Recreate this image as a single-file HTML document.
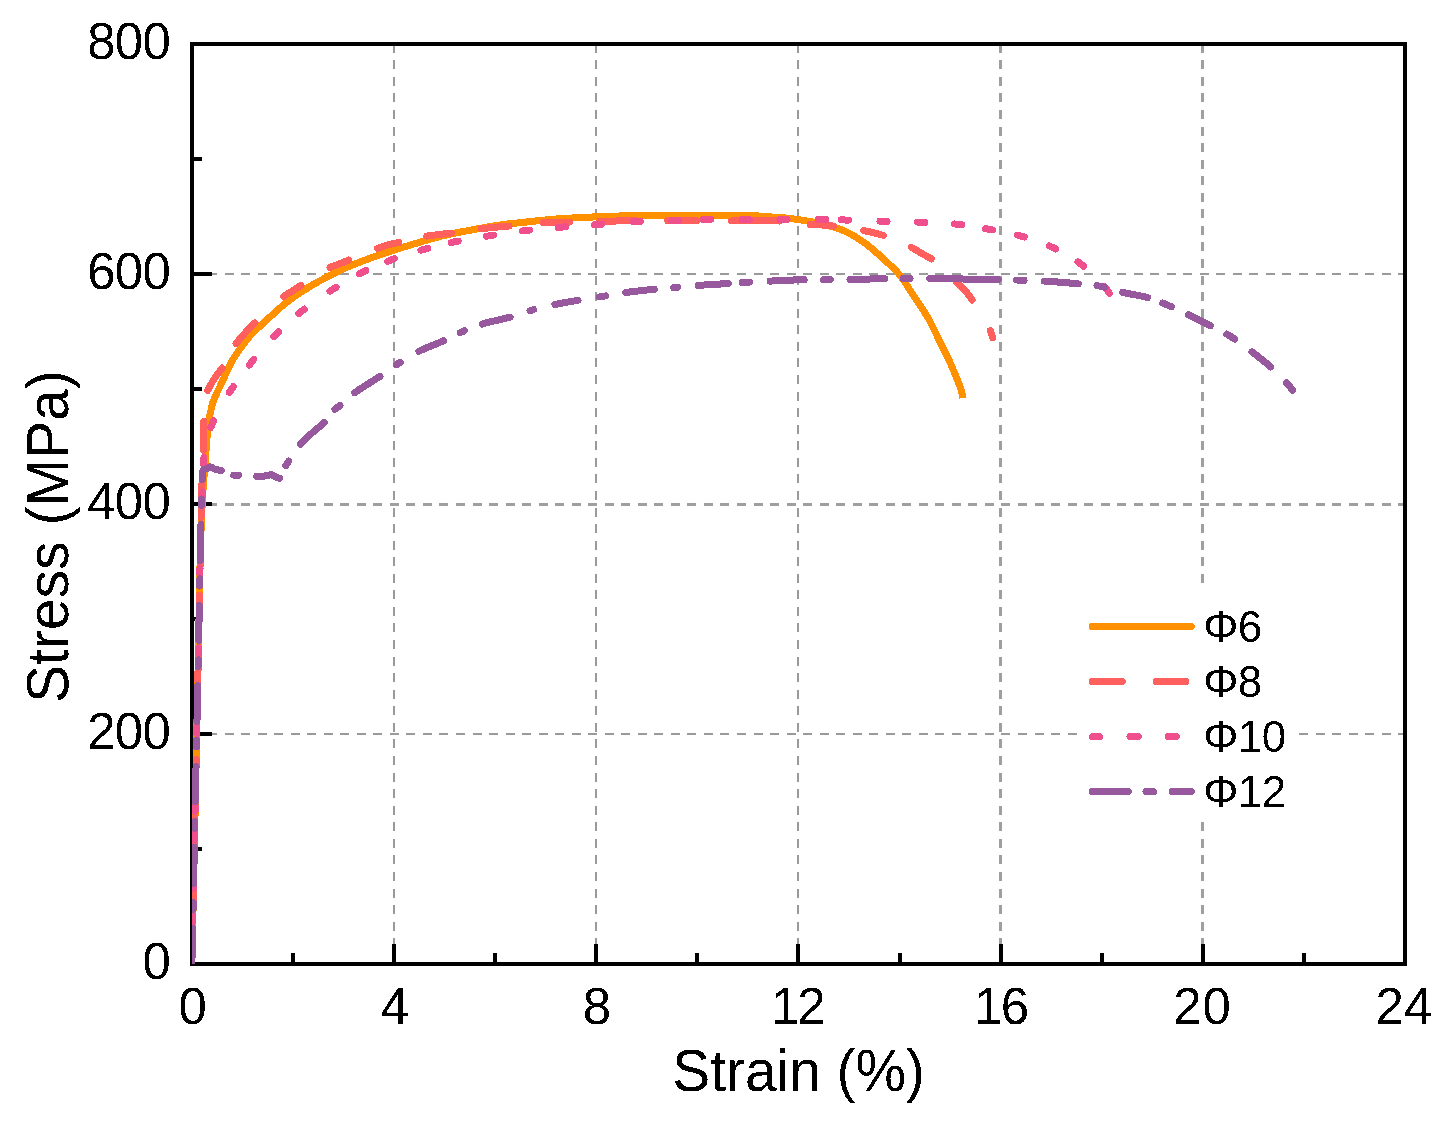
<!DOCTYPE html>
<html><head><meta charset="utf-8"><title>Stress-Strain Curves</title>
<style>html,body{margin:0;padding:0;background:#fff;width:1456px;height:1125px;overflow:hidden}svg{display:block}</style>
</head><body>
<svg width="1456" height="1125" viewBox="0 0 1456 1125">
<defs><clipPath id="pa"><rect x="192" y="44" width="1213" height="920"/></clipPath><filter id="bin" x="0" y="0" width="100%" height="100%" color-interpolation-filters="sRGB"><feComponentTransfer><feFuncA type="discrete" tableValues="0 1"/></feComponentTransfer></filter></defs>
<rect x="0" y="0" width="1456" height="1125" fill="#fff"/>
<g shape-rendering="crispEdges"><line x1="394.00" y1="43.7" x2="394.00" y2="964" stroke="#9a9a9a" stroke-width="2" stroke-dasharray="9 7.565"/><line x1="596.00" y1="43.7" x2="596.00" y2="964" stroke="#9a9a9a" stroke-width="2" stroke-dasharray="9 7.565"/><line x1="798.00" y1="43.7" x2="798.00" y2="964" stroke="#9a9a9a" stroke-width="2" stroke-dasharray="9 7.565"/><line x1="1000.50" y1="43.7" x2="1000.50" y2="964" stroke="#9f9f9f" stroke-width="3" stroke-dasharray="9 7.565"/><line x1="1202.50" y1="43.7" x2="1202.50" y2="964" stroke="#9f9f9f" stroke-width="3" stroke-dasharray="9 7.565"/><line x1="191.5" y1="734.00" x2="1405" y2="734.00" stroke="#9a9a9a" stroke-width="2" stroke-dasharray="9 7.53"/><line x1="191.5" y1="504.50" x2="1405" y2="504.50" stroke="#9f9f9f" stroke-width="3" stroke-dasharray="9 7.53"/><line x1="191.5" y1="274.00" x2="1405" y2="274.00" stroke="#9a9a9a" stroke-width="2" stroke-dasharray="9 7.53"/></g>
<rect x="1080" y="587" width="215" height="233" fill="#fff"/>
<rect x="192" y="44" width="1213" height="920" fill="none" stroke="#000" stroke-width="4" shape-rendering="crispEdges"/>
<path d="M194,964.00h18M194,849.00h8M194,734.00h18M194,619.00h8M194,504.00h18M194,389.00h8M194,274.00h18M194,159.00h8M194,44.00h18M192.00,962v-18M293.08,962v-9M394.17,962v-18M495.25,962v-9M596.33,962v-18M697.42,962v-9M798.00,962v-18M899.58,962v-9M1000.67,962v-18M1101.75,962v-9M1202.83,962v-18M1303.92,962v-9M1405.00,962v-18" stroke="#000" stroke-width="4" fill="none" shape-rendering="crispEdges"/>
<g clip-path="url(#pa)" fill="none" stroke-width="7" stroke-linejoin="round" shape-rendering="crispEdges">
<path d="M191.80,968.00 C192.99,912.00 194.23,854.41 195.36,800.00 C196.43,748.58 197.49,696.13 198.44,650.00 C199.25,610.50 199.71,569.53 200.69,540.00 C201.36,520.08 202.12,504.02 203.00,490.00 C203.64,479.80 204.41,472.48 205.10,463.60 C205.81,454.55 206.41,444.40 207.20,436.20 C207.84,429.51 208.51,422.82 209.30,418.00 C209.83,414.78 210.38,412.66 211.00,410.00 C211.62,407.33 212.12,404.63 213.00,402.00 C213.91,399.30 215.21,396.65 216.40,394.00 C217.61,391.32 218.93,388.67 220.20,386.00 C221.47,383.33 222.76,380.67 224.00,378.00 C225.23,375.34 226.37,372.66 227.60,370.00 C228.84,367.33 229.96,364.63 231.40,362.00 C232.88,359.29 234.62,356.64 236.40,354.00 C238.22,351.30 240.07,348.83 242.20,346.00 C244.67,342.72 247.13,339.11 250.40,335.50 C254.40,331.09 259.98,326.30 264.80,321.80 C269.58,317.34 275.26,312.08 279.20,308.60 C281.86,306.25 283.26,304.94 286.00,302.80 C289.86,299.80 295.55,295.83 300.40,292.60 C305.15,289.43 309.95,286.39 314.80,283.60 C319.55,280.87 324.39,278.47 329.20,276.00 C333.99,273.54 338.60,271.08 343.60,268.80 C348.85,266.40 354.09,264.30 360.00,262.00 C366.84,259.34 373.99,256.71 382.30,253.90 C392.67,250.40 406.48,246.15 417.50,242.90 C427.18,240.05 435.72,237.49 444.90,235.30 C454.02,233.13 463.22,231.52 472.40,229.80 C481.56,228.09 490.71,226.32 499.90,225.00 C509.05,223.69 518.24,222.88 527.40,221.90 C536.54,220.92 545.65,219.83 554.80,219.10 C563.95,218.37 573.11,217.97 582.30,217.50 C591.51,217.03 600.23,216.64 610.00,216.30 C620.98,215.92 632.02,215.58 645.00,215.40 C661.27,215.18 682.10,215.30 700.00,215.30 C717.06,215.30 737.96,214.94 750.00,215.40 C756.82,215.66 760.67,216.22 766.00,216.60 C771.33,216.98 777.58,217.33 782.00,217.70 C785.13,217.96 786.54,218.04 790.00,218.50 C796.43,219.35 808.40,220.91 817.50,223.00 C826.73,225.12 836.72,227.53 845.00,231.20 C852.57,234.55 858.85,238.78 865.50,243.60 C872.60,248.75 880.11,255.73 886.20,261.40 C891.34,266.19 895.58,269.90 899.90,275.20 C904.78,281.18 908.96,288.76 913.60,295.80 C918.45,303.17 924.21,311.19 928.40,318.50 C932.07,324.90 934.70,331.08 937.70,337.10 C940.52,342.76 943.21,347.92 945.90,353.60 C948.72,359.56 951.58,365.72 954.20,372.10 C956.93,378.74 960.90,387.91 961.90,392.70 C962.41,395.14 962.10,396.50 962.20,398.40" stroke="#ff9000" stroke-linecap="butt"/>
<path d="M191.80,968.00 C192.99,912.00 194.23,854.41 195.36,800.00 C196.43,748.58 197.49,696.13 198.44,650.00 C199.25,610.50 200.09,569.53 200.69,540.00 C201.10,520.09 201.20,505.30 201.72,490.00 C202.15,477.01 203.11,463.94 203.40,454.00 C203.60,446.97 203.50,442.00 203.60,436.00 C203.70,430.00 203.59,424.42 204.00,418.00 C204.47,410.57 204.98,399.77 206.50,394.00 C207.42,390.53 208.59,388.70 210.00,386.00 C211.54,383.04 213.41,380.18 215.50,377.00 C217.97,373.25 221.19,369.53 224.00,365.00 C227.36,359.59 230.30,352.03 234.00,346.50 C237.36,341.47 241.12,337.33 245.00,333.00 C248.89,328.66 253.35,324.54 257.30,320.50 C261.00,316.72 264.20,313.09 268.00,309.50 C271.98,305.75 276.45,301.69 280.70,298.50 C284.55,295.61 288.43,293.51 292.30,291.00 C296.19,288.48 299.45,286.32 304.00,283.40 C310.32,279.35 320.09,272.42 326.70,269.00 C331.42,266.56 335.16,265.52 339.40,263.80 C343.63,262.08 347.30,260.64 352.10,258.70 C358.41,256.15 367.24,252.33 374.00,249.80 C379.72,247.66 384.96,245.67 390.00,244.30 C394.36,243.12 397.73,242.83 402.40,241.80 C408.54,240.44 415.82,238.15 423.60,236.70 C432.91,234.97 445.01,233.95 454.60,232.60 C462.93,231.42 469.36,230.16 477.90,229.10 C488.24,227.81 501.48,226.77 512.30,225.70 C521.95,224.75 530.13,223.62 539.70,223.00 C550.18,222.33 562.22,222.29 572.70,222.00 C582.23,221.73 590.03,221.50 600.00,221.30 C612.06,221.05 628.32,220.76 640.00,220.70 C649.10,220.65 655.42,220.78 664.30,220.80 C675.06,220.82 688.82,220.78 700.00,220.80 C709.90,220.82 717.11,220.85 728.00,220.90 C743.27,220.97 768.53,220.27 783.00,221.20 C792.50,221.81 799.47,223.46 806.50,224.10 C812.19,224.62 816.85,224.60 822.00,225.00 C827.15,225.40 831.78,225.82 837.40,226.50 C844.22,227.33 853.47,228.59 860.00,229.80 C865.07,230.74 868.95,231.69 873.40,232.80 C877.88,233.92 881.88,234.78 886.80,236.50 C893.15,238.72 901.96,242.54 908.10,245.60 C913.02,248.05 916.68,250.50 921.00,253.00 C925.38,255.53 930.08,257.83 934.20,260.70 C938.23,263.51 941.91,266.62 945.50,270.00 C949.19,273.47 952.63,277.78 956.00,281.30 C959.04,284.47 962.34,287.43 964.80,290.20 C966.77,292.42 968.27,294.29 969.80,296.50 C971.34,298.72 972.48,300.96 974.00,303.50 C975.82,306.54 977.96,310.28 980.00,313.50 C981.96,316.60 984.24,319.54 986.00,322.50 C987.60,325.20 989.06,327.94 990.20,330.50 C991.20,332.75 992.06,335.08 992.60,337.00 C993.02,338.48 993.13,339.67 993.40,341.00" stroke="#ff5f5d" stroke-linecap="round" stroke-dasharray="31.20 30.72 27.27 31.04 26.66 30.94 27.01 30.05 27.22 21.75 27.21 30.78 27.46 28.98 28.06 20.50 36.10 31.19 29.01 31.16 27.02 28.04 27.97 39.16 20.77 33.89 20.42 30.64 22.58 28.81 24.27 30.56 27.57 34.53 26.02 30.53 36.78 31.30 28.70 35.00 48.01 30.69 24.00 29.84 20.64 30.17 23.16 33.58 24.68 35.68 7.40 1573.75" stroke-dashoffset="-3.50"/>
<path d="M191.80,968.00 C192.99,912.00 194.23,854.41 195.36,800.00 C196.43,748.58 197.49,696.13 198.44,650.00 C199.25,610.50 199.86,568.80 200.69,540.00 C201.23,521.37 201.87,508.18 202.40,494.00 C202.86,481.81 202.83,469.82 203.70,460.00 C204.37,452.43 204.97,446.22 206.50,440.00 C207.90,434.29 209.95,429.51 212.20,424.00 C214.70,417.88 217.70,410.88 221.00,405.00 C224.11,399.47 227.90,394.61 231.30,389.60 C234.57,384.79 237.62,380.08 241.00,375.50 C244.36,370.95 247.91,366.69 251.50,362.20 C255.23,357.53 258.96,352.63 263.00,348.00 C267.12,343.29 271.65,338.57 276.00,334.20 C280.15,330.03 284.24,326.12 288.50,322.30 C292.71,318.52 296.93,315.03 301.40,311.40 C306.08,307.60 310.86,303.62 316.00,300.00 C321.34,296.24 327.47,292.71 332.90,289.30 C337.94,286.13 342.52,283.06 347.50,280.20 C352.49,277.33 356.86,274.94 362.80,272.10 C370.71,268.32 381.12,263.70 391.00,260.00 C401.55,256.05 413.41,252.39 424.30,249.30 C434.59,246.38 444.07,244.01 454.60,241.80 C465.90,239.43 478.14,237.58 490.00,235.70 C501.94,233.81 514.01,231.94 526.00,230.50 C537.91,229.07 549.74,228.10 561.70,227.10 C573.74,226.10 585.71,225.40 598.00,224.50 C610.69,223.57 623.81,222.27 636.70,221.60 C649.54,220.94 662.98,220.87 675.20,220.50 C686.31,220.17 695.89,219.67 707.00,219.50 C719.22,219.31 732.71,219.50 745.50,219.50 C758.21,219.50 770.79,219.53 783.50,219.50 C796.29,219.47 810.81,219.16 822.00,219.30 C830.65,219.41 836.36,219.72 845.00,220.00 C856.17,220.36 870.65,220.92 883.40,221.30 C896.05,221.68 908.70,221.79 921.20,222.30 C933.53,222.80 946.20,223.04 957.90,224.30 C968.73,225.46 978.59,227.37 989.00,229.30 C999.59,231.26 1010.39,233.02 1020.90,236.00 C1031.57,239.03 1042.47,242.71 1052.50,247.40 C1062.39,252.03 1072.95,258.27 1080.70,263.90 C1086.83,268.35 1091.54,273.11 1096.00,277.50 C1099.79,281.23 1103.60,285.38 1106.00,288.40 C1107.55,290.36 1108.54,292.10 1109.50,293.50 C1110.17,294.48 1110.63,295.17 1111.20,296.00" stroke="#ef4f8c" stroke-linecap="round" stroke-dasharray="6.07 26.15 5.62 27.19 5.09 43.07 6.90 21.79 5.22 72.68 6.22 74.08 5.91 73.28 5.60 29.00 5.46 37.79 4.87 27.85 6.27 31.13 7.20 32.29 7.20 26.86 7.20 30.04 7.20 26.95 7.20 31.33 7.20 27.32 7.20 23.50 7.20 27.79 7.20 24.02 7.20 28.73 7.20 29.18 7.20 28.66 7.20 29.19 7.20 31.61 7.20 31.32 7.20 24.62 7.20 31.30 7.20 30.80 7.20 31.30 7.20 15.81 7.20 31.22 7.20 30.61 7.20 29.56 7.20 24.31 7.20 25.41 7.20 26.43 7.20 25.52 7.20 28.60 8.80 1639.95" stroke-dashoffset="-14.52"/>
<path d="M191.80,968.00 C192.99,912.00 194.23,854.41 195.36,800.00 C196.43,748.58 197.49,696.13 198.44,650.00 C199.25,610.50 200.09,569.53 200.69,540.00 C201.10,520.09 201.35,499.93 201.72,490.00 C201.87,485.79 202.10,483.91 202.20,481.00 C202.29,478.26 201.93,475.08 202.30,473.00 C202.55,471.60 202.72,470.33 203.50,469.60 C204.28,468.86 205.86,469.05 207.00,468.60 C208.19,468.13 209.34,466.77 210.50,466.80 C211.67,466.83 212.69,468.25 214.00,468.80 C215.48,469.42 217.32,469.83 219.00,470.20 C220.66,470.56 222.34,470.40 224.00,471.00 C225.88,471.68 227.62,473.58 229.60,474.30 C231.53,475.00 233.65,475.08 235.70,475.30 C237.75,475.52 239.55,475.45 241.90,475.60 C245.01,475.80 249.23,476.41 252.70,476.50 C255.91,476.58 259.24,476.38 262.00,476.20 C264.22,476.05 266.36,475.95 268.00,475.60 C269.19,475.35 270.01,474.54 271.00,474.60 C272.01,474.66 272.93,475.48 274.00,476.00 C275.24,476.60 276.71,477.65 278.00,478.00 C279.10,478.29 280.41,478.66 281.20,478.20 C282.04,477.72 282.31,476.31 282.80,475.00 C283.50,473.11 283.62,470.13 284.60,467.80 C285.64,465.32 287.14,463.46 289.00,460.60 C291.88,456.17 296.41,448.79 300.50,444.00 C304.13,439.75 308.12,436.54 312.00,433.00 C315.79,429.54 319.86,426.76 323.50,423.00 C327.39,418.98 331.37,412.41 334.50,409.50 C336.35,407.78 337.43,407.62 339.50,406.00 C343.30,403.03 350.04,396.26 355.00,392.50 C359.15,389.35 362.99,387.19 367.00,384.60 C370.99,382.02 374.59,379.94 379.00,377.00 C384.61,373.26 391.30,368.00 397.80,363.80 C404.46,359.50 411.18,355.22 418.50,351.50 C426.20,347.58 435.39,344.47 443.00,341.00 C449.77,337.91 455.57,334.60 462.00,331.80 C468.40,329.01 474.30,326.48 481.50,324.20 C490.02,321.51 501.22,319.71 510.00,317.20 C517.69,315.00 524.09,312.28 531.40,310.20 C538.91,308.06 546.74,306.25 554.50,304.60 C562.28,302.95 570.12,301.65 578.00,300.30 C585.95,298.94 594.09,297.80 602.00,296.50 C609.75,295.23 616.81,293.76 625.00,292.60 C634.32,291.28 645.98,290.09 655.00,289.20 C662.39,288.47 668.34,288.10 675.20,287.50 C682.33,286.87 689.03,286.11 697.00,285.50 C706.64,284.76 720.08,284.10 729.00,283.50 C735.40,283.07 739.57,282.66 745.50,282.30 C752.42,281.88 760.54,281.57 768.00,281.20 C775.37,280.84 781.75,280.36 790.00,280.10 C800.61,279.76 816.08,279.67 826.40,279.60 C834.03,279.55 838.47,279.69 846.30,279.60 C857.56,279.46 876.46,278.73 887.50,278.60 C894.92,278.51 899.69,278.60 906.10,278.60 C912.96,278.60 918.19,278.54 927.40,278.60 C944.41,278.72 983.48,279.27 1000.00,279.60 C1008.56,279.77 1012.70,279.88 1019.50,280.10 C1026.97,280.34 1034.39,280.49 1043.00,281.00 C1053.51,281.62 1067.70,282.82 1078.00,283.80 C1086.16,284.57 1092.64,284.82 1099.90,286.20 C1107.30,287.60 1114.34,290.35 1122.00,292.20 C1130.17,294.17 1139.70,295.33 1147.50,297.60 C1154.38,299.60 1160.02,302.02 1166.50,304.70 C1173.49,307.60 1180.82,311.07 1188.00,314.50 C1195.32,318.00 1202.83,321.81 1210.00,325.50 C1216.95,329.08 1223.64,332.11 1230.40,336.30 C1237.65,340.79 1245.20,346.61 1252.00,351.80 C1258.35,356.65 1264.57,361.62 1270.00,366.40 C1274.78,370.60 1279.16,374.73 1283.00,378.80 C1286.38,382.38 1289.95,386.88 1292.00,389.40 C1293.11,390.76 1293.67,391.53 1294.50,392.60" stroke="#98589e" stroke-linecap="round" stroke-dasharray="36.24 18.61 7.13 19.10 36.12 18.92 6.82 19.73 35.46 19.34 6.82 18.70 35.80 19.06 6.71 19.44 34.88 19.48 7.08 18.55 35.95 18.98 6.67 19.70 28.98 13.57 4.89 17.84 23.98 15.62 5.14 20.61 32.39 16.74 6.37 19.30 30.30 19.97 4.73 21.56 26.90 18.50 4.48 19.16 28.74 20.90 3.99 21.71 23.47 21.72 6.09 20.60 28.57 19.56 3.96 20.71 30.04 14.38 7.18 20.26 34.27 19.14 6.84 20.09 34.21 18.79 6.79 20.03 68.18 18.60 7.29 20.14 34.09 18.93 7.89 18.74 25.36 16.02 9.51 18.68 24.70 18.44 9.55 21.22 23.89 22.30 9.86 1788.77" stroke-dashoffset="-3.50"/>
</g>
<line x1="1092.3" y1="626.5" x2="1191.3" y2="626.5" stroke="#ff9000" stroke-width="7" stroke-linecap="round" shape-rendering="crispEdges"/>
<line x1="1092.3" y1="681.5" x2="1122.4" y2="681.5" stroke="#ff5f5d" stroke-width="7" stroke-linecap="round" shape-rendering="crispEdges"/>
<line x1="1156.3" y1="681.5" x2="1186.0" y2="681.5" stroke="#ff5f5d" stroke-width="7" stroke-linecap="round" shape-rendering="crispEdges"/>
<line x1="1092.5" y1="736.5" x2="1099.5" y2="736.5" stroke="#ef4f8c" stroke-width="7" stroke-linecap="round" shape-rendering="crispEdges"/>
<line x1="1130.0" y1="736.5" x2="1138.4" y2="736.5" stroke="#ef4f8c" stroke-width="7" stroke-linecap="round" shape-rendering="crispEdges"/>
<line x1="1168.4" y1="736.5" x2="1176.4" y2="736.5" stroke="#ef4f8c" stroke-width="7" stroke-linecap="round" shape-rendering="crispEdges"/>
<line x1="1092.3" y1="791.5" x2="1128.4" y2="791.5" stroke="#98589e" stroke-width="7" stroke-linecap="round" shape-rendering="crispEdges"/>
<line x1="1146.0" y1="791.5" x2="1153.5" y2="791.5" stroke="#98589e" stroke-width="7" stroke-linecap="round" shape-rendering="crispEdges"/>
<line x1="1172.1" y1="791.5" x2="1191.3" y2="791.5" stroke="#98589e" stroke-width="7" stroke-linecap="round" shape-rendering="crispEdges"/>
<g filter="url(#bin)">
<text transform="translate(1203.3,641.6) scale(0.971,1)" font-size="45.3" letter-spacing="-0.6" font-family="'Liberation Sans', Arial, Helvetica, sans-serif" fill="#000">Φ6</text>
<text transform="translate(1203.3,696.6) scale(0.971,1)" font-size="45.3" letter-spacing="-0.6" font-family="'Liberation Sans', Arial, Helvetica, sans-serif" fill="#000">Φ8</text>
<text transform="translate(1203.3,751.6) scale(0.971,1)" font-size="45.3" letter-spacing="-0.6" font-family="'Liberation Sans', Arial, Helvetica, sans-serif" fill="#000">Φ10</text>
<text transform="translate(1203.3,806.6) scale(0.971,1)" font-size="45.3" letter-spacing="-0.6" font-family="'Liberation Sans', Arial, Helvetica, sans-serif" fill="#000">Φ12</text>
<text x="170.2" y="979.0" font-size="51" letter-spacing="-0.7" text-anchor="end" font-family="'Liberation Sans', Arial, Helvetica, sans-serif" fill="#000">0</text>
<text x="170.2" y="749.0" font-size="51" letter-spacing="-0.7" text-anchor="end" font-family="'Liberation Sans', Arial, Helvetica, sans-serif" fill="#000">200</text>
<text x="170.2" y="519.0" font-size="51" letter-spacing="-0.7" text-anchor="end" font-family="'Liberation Sans', Arial, Helvetica, sans-serif" fill="#000">400</text>
<text x="170.2" y="289.0" font-size="51" letter-spacing="-0.7" text-anchor="end" font-family="'Liberation Sans', Arial, Helvetica, sans-serif" fill="#000">600</text>
<text x="170.2" y="59.0" font-size="51" letter-spacing="-0.7" text-anchor="end" font-family="'Liberation Sans', Arial, Helvetica, sans-serif" fill="#000">800</text>
<text x="192.3" y="1024" font-size="51" letter-spacing="-0.7" text-anchor="middle" font-family="'Liberation Sans', Arial, Helvetica, sans-serif" fill="#000">0</text>
<text x="394.5" y="1024" font-size="51" letter-spacing="-0.7" text-anchor="middle" font-family="'Liberation Sans', Arial, Helvetica, sans-serif" fill="#000">4</text>
<text x="596.6" y="1024" font-size="51" letter-spacing="-0.7" text-anchor="middle" font-family="'Liberation Sans', Arial, Helvetica, sans-serif" fill="#000">8</text>
<text x="770.9" y="1024" font-size="51" letter-spacing="-2.0" font-family="'Liberation Sans', Arial, Helvetica, sans-serif" fill="#000">12</text>
<text x="974.0" y="1024" font-size="51" letter-spacing="-1.5" font-family="'Liberation Sans', Arial, Helvetica, sans-serif" fill="#000">16</text>
<text x="1173.2" y="1024" font-size="51" letter-spacing="0.9" font-family="'Liberation Sans', Arial, Helvetica, sans-serif" fill="#000">20</text>
<text x="1375.4" y="1024" font-size="51" letter-spacing="0.3" font-family="'Liberation Sans', Arial, Helvetica, sans-serif" fill="#000">24</text>
<text transform="translate(798.6,1090.6) scale(0.963,1)" font-size="59" text-anchor="middle" font-family="'Liberation Sans', Arial, Helvetica, sans-serif" fill="#000">Strain (%)</text>
<text transform="translate(68.2,536.6) rotate(-90) scale(0.967,1)" font-size="59" text-anchor="middle" font-family="'Liberation Sans', Arial, Helvetica, sans-serif" fill="#000">Stress (MPa)</text>
</g>
</svg>
</body></html>
